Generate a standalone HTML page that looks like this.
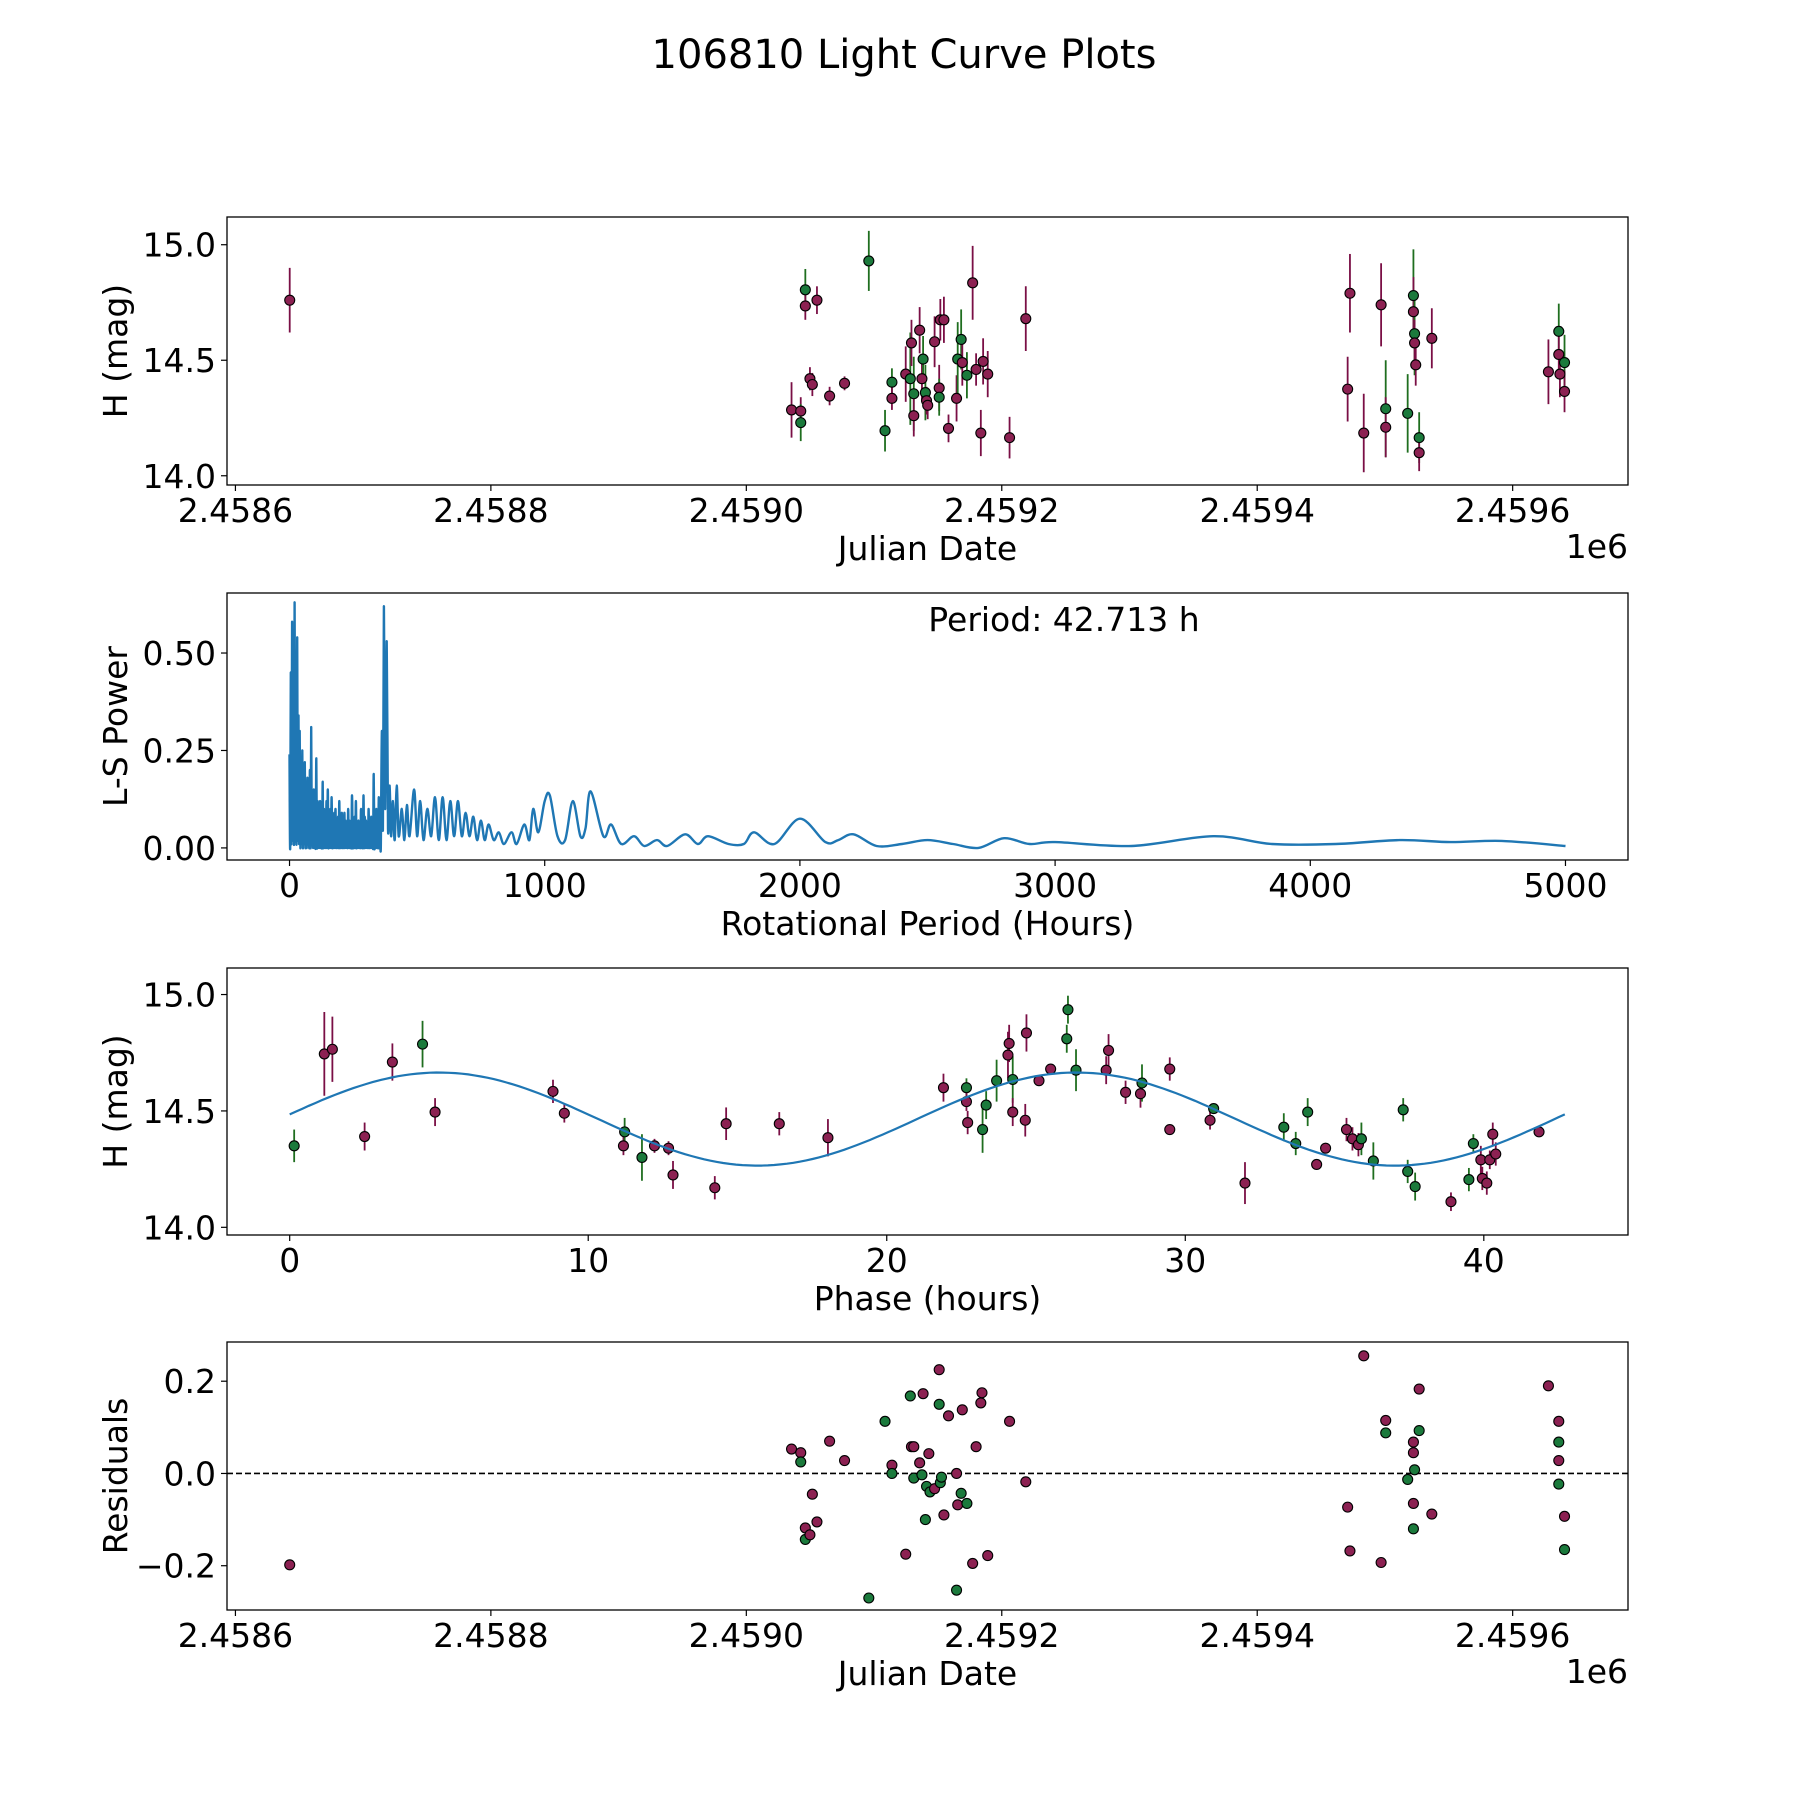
<!DOCTYPE html>
<html><head><meta charset="utf-8"><style>
html,body{margin:0;padding:0;background:#fff}
svg{display:block;font-family:"DejaVu Sans","Liberation Sans",sans-serif}
</style></head><body>
<svg id="fig" width="1800" height="1800" viewBox="0 0 1800 1800">
<text x="904" y="68" font-size="40" text-anchor="middle">106810 Light Curve Plots</text>
</svg>
<script>
// ---- Panel 1: raw light curve ----
const lcJD = [2458642.5,2459035.4,2459042.6,2459042.6,2459046.2,2459046.2,2459049.8,2459051.7,2459055.3,2459065.2,2459076.9,2459095.9,2459108.6,2459114.0,2459114.0,2459124.8,2459128.4,2459129.3,2459131.1,2459131.1,2459135.7,2459137.5,2459138.4,2459140.2,2459141.1,2459142.0,2459147.4,2459151.0,2459151.0,2459151.9,2459154.7,2459158.3,2459164.6,2459165.5,2459168.2,2459169.1,2459172.7,2459177.2,2459179.9,2459183.6,2459185.4,2459189.0,2459206.1,2459218.8,2459470.8,2459472.6,2459483.4,2459497.0,2459500.6,2459500.6,2459517.8,2459522.3,2459522.3,2459523.2,2459523.2,2459524.1,2459526.8,2459526.8,2459536.7,2459628.0,2459636.1,2459636.1,2459637.0,2459640.6,2459640.6];
const lcMag = [14.76,14.285,14.28,14.23,14.805,14.735,14.42,14.395,14.76,14.345,14.40,14.93,14.195,14.405,14.335,14.44,14.42,14.575,14.355,14.26,14.63,14.42,14.505,14.36,14.325,14.305,14.58,14.38,14.34,14.675,14.675,14.205,14.335,14.505,14.59,14.49,14.435,14.835,14.46,14.185,14.495,14.44,14.165,14.68,14.375,14.79,14.185,14.74,14.29,14.21,14.27,14.78,14.71,14.615,14.575,14.48,14.165,14.10,14.595,14.45,14.625,14.525,14.44,14.49,14.365];
const lcErr = [0.14,0.12,0.06,0.08,0.09,0.06,0.05,0.05,0.06,0.04,0.03,0.13,0.09,0.06,0.05,0.12,0.2,0.1,0.16,0.09,0.1,0.1,0.1,0.12,0.06,0.06,0.11,0.1,0.08,0.09,0.1,0.06,0.1,0.16,0.13,0.1,0.1,0.16,0.07,0.1,0.1,0.1,0.09,0.14,0.14,0.17,0.17,0.18,0.21,0.13,0.17,0.2,0.15,0.18,0.1,0.09,0.11,0.08,0.13,0.14,0.12,0.1,0.1,0.12,0.09];
const lcBand = ['p','p','p','g','g','p','p','p','p','p','p','g','g','g','p','p','g','p','g','p','p','p','g','g','p','p','p','p','g','p','p','p','p','g','g','p','g','p','p','p','p','p','p','p','p','p','p','p','g','p','g','g','p','g','p','p','g','p','p','p','g','p','p','g','p'];
// ---- Panel 2: periodogram ----
const lsPeriod = [0,2.5,5,7.5,10,12.5,15,17.5,20,22.5,25,27.5,30,32.5,35,37.5,40,42.5,45,47.5,50,52.5,55,57.5,60,62.5,65,67.5,70,72.5,75,77.5,80,82.5,85,87.5,90,92.5,95,97.5,100,102.5,105,107.5,110,112.5,115,117.5,120,122.5,125,127.5,130,132.5,135,137.5,140,142.5,145,147.5,150,152.5,155,157.5,160,162.5,165,167.5,170,172.5,175,177.5,180,182.5,185,187.5,190,192.5,195,197.5,200,202.5,205,207.5,210,212.5,215,217.5,220,222.5,225,227.5,230,232.5,235,237.5,240,242.5,245,247.5,250,252.5,255,257.5,260,262.5,265,267.5,270,272.5,275,277.5,280,282.5,285,287.5,290,292.5,295,297.5,300,302.5,305,307.5,310,312.5,315,317.5,320,322.5,325,327.5,330,332.5,335,337.5,340,342.5,345,347.5,350,352.5,355,357.5,362,366,370,375,381,386,392,398,405,412,420,428,440,450,460,470,488,500,512,525,540,555,570,585,600,615,630,645,660,675,690,705,720,735,750,765,780,800,820,840,870,890,920,940,955,975,1000,1020,1050,1080,1110,1140,1160,1180,1230,1260,1300,1350,1390,1440,1480,1550,1600,1640,1720,1780,1820,1900,2000,2100,2150,2210,2300,2400,2500,2600,2700,2800,2900,3000,3300,3620,3850,4100,4350,4550,4750,5000];
const lsPower = [0.24,0.0,0.45,0.01,0.58,0.02,0.4,0.01,0.63,0.02,0.35,0.01,0.54,0.02,0.34,0.01,0.3,0.0,0.2,0.01,0.25,0.0,0.16,0.01,0.22,0.0,0.14,0.0,0.18,0.01,0.12,0.0,0.2,0.0,0.31,0.01,0.14,0.0,0.15,0.0,0.1,0.0,0.23,0.0,0.12,0.0,0.1,0.0,0.12,0.0,0.08,0.0,0.17,0.0,0.1,0.0,0.09,0.0,0.12,0.0,0.15,0.0,0.08,0.0,0.1,0.0,0.13,0.0,0.07,0.0,0.09,0.0,0.1,0.0,0.06,0.0,0.08,0.0,0.12,0.0,0.07,0.0,0.09,0.0,0.06,0.0,0.09,0.0,0.07,0.0,0.06,0.0,0.1,0.0,0.07,0.0,0.06,0.0,0.135,0.0,0.06,0.0,0.08,0.0,0.12,0.0,0.06,0.0,0.07,0.0,0.05,0.0,0.1,0.0,0.07,0.0,0.135,0.0,0.08,0.0,0.07,0.0,0.06,0.0,0.1,0.0,0.06,0.0,0.08,0.0,0.07,0.0,0.19,0.0,0.06,0.0,0.1,0.0,0.07,0.0,0.13,0.0,0.06,0.0,0.3,0.05,0.62,0.1,0.53,0.05,0.16,0.03,0.12,0.02,0.16,0.03,0.1,0.02,0.11,0.03,0.15,0.03,0.12,0.02,0.1,0.03,0.13,0.02,0.13,0.02,0.12,0.03,0.12,0.03,0.09,0.03,0.08,0.02,0.07,0.02,0.06,0.02,0.04,0.01,0.04,0.01,0.06,0.02,0.1,0.04,0.12,0.135,0.03,0.02,0.12,0.03,0.05,0.145,0.03,0.06,0.01,0.03,0.005,0.02,0.005,0.035,0.01,0.03,0.01,0.01,0.04,0.01,0.075,0.015,0.02,0.035,0.005,0.01,0.02,0.01,0.0,0.025,0.01,0.015,0.005,0.03,0.01,0.01,0.02,0.015,0.018,0.005];
const bestPeriod = [42.713];
// ---- Panel 3: phased light curve ----
const phHours = [0.15,1.16,1.43,2.51,3.44,4.45,4.87,8.82,9.2,11.18,11.22,11.8,12.22,12.69,12.84,14.24,14.62,16.4,18.03,21.9,22.67,22.67,22.71,23.21,23.33,23.68,24.06,24.1,24.22,24.22,24.64,24.68,25.1,25.49,26.03,26.07,26.34,27.35,27.43,28.0,28.5,28.55,29.48,29.48,30.83,30.95,32.0,33.3,33.7,34.1,34.4,34.7,35.4,35.6,35.8,35.9,36.3,37.3,37.45,37.7,38.9,39.5,39.65,39.9,39.95,40.1,40.2,40.3,40.4,41.85];
const phMag = [14.35,14.745,14.765,14.39,14.71,14.787,14.495,14.584,14.49,14.35,14.41,14.3,14.35,14.34,14.225,14.17,14.445,14.445,14.385,14.6,14.6,14.54,14.45,14.42,14.525,14.63,14.74,14.79,14.635,14.495,14.46,14.835,14.63,14.68,14.81,14.935,14.675,14.675,14.76,14.58,14.574,14.62,14.42,14.68,14.46,14.51,14.19,14.43,14.36,14.495,14.27,14.34,14.42,14.38,14.355,14.38,14.285,14.505,14.24,14.175,14.11,14.205,14.36,14.29,14.21,14.19,14.29,14.4,14.315,14.41];
const phErr = [0.07,0.18,0.14,0.06,0.08,0.1,0.06,0.05,0.04,0.04,0.06,0.1,0.03,0.03,0.06,0.05,0.07,0.05,0.08,0.06,0.04,0.04,0.05,0.1,0.06,0.09,0.1,0.08,0.1,0.06,0.07,0.08,0.02,0.02,0.06,0.06,0.09,0.06,0.07,0.05,0.06,0.08,0.02,0.05,0.04,0.02,0.09,0.06,0.05,0.06,0.02,0.02,0.05,0.05,0.05,0.07,0.08,0.05,0.05,0.06,0.04,0.05,0.04,0.06,0.05,0.05,0.04,0.05,0.05,0.02];
const phBand = ['g','p','p','p','p','g','p','p','p','p','g','g','p','p','p','p','p','p','p','p','g','p','p','g','g','g','p','p','g','p','p','p','p','p','g','g','g','p','p','p','p','g','p','p','p','g','p','g','g','g','p','p','p','p','p','g','g','g','g','g','p','g','g','p','p','p','p','p','p','p'];
const fitParams = [14.465, 0.2, 21.356, -0.34]; // mean, amplitude, period(h), phase offset
// ---- Panel 4: residuals ----
const resJD = [2458642.5,2459035.4,2459042.6,2459042.6,2459046.2,2459046.2,2459049.8,2459051.7,2459055.3,2459065.2,2459076.9,2459095.9,2459108.6,2459114.0,2459114.0,2459124.8,2459128.4,2459129.3,2459131.1,2459131.1,2459135.7,2459137.5,2459138.4,2459140.2,2459141.1,2459142.9,2459143.8,2459147.4,2459151.0,2459151.0,2459151.9,2459152.8,2459154.7,2459158.3,2459164.6,2459165.5,2459168.2,2459169.1,2459172.7,2459164.6,2459177.2,2459179.9,2459183.6,2459184.5,2459189.0,2459206.1,2459218.8,2459470.8,2459472.6,2459483.4,2459497.0,2459500.6,2459500.6,2459517.8,2459522.3,2459522.3,2459523.2,2459522.3,2459522.3,2459526.8,2459526.8,2459536.7,2459628.0,2459636.1,2459636.1,2459636.1,2459636.1,2459640.6,2459640.6];
const resVal = [-0.198,0.053,0.045,0.025,-0.118,-0.143,-0.133,-0.045,-0.105,0.07,0.028,-0.27,0.113,0.018,0.0,-0.175,0.168,0.058,0.058,-0.01,0.023,-0.003,0.173,-0.1,-0.028,0.043,-0.04,-0.033,0.225,0.15,-0.02,-0.008,-0.09,0.125,0.0,-0.068,-0.043,0.138,-0.065,-0.253,-0.195,0.058,0.153,0.175,-0.178,0.113,-0.018,-0.073,-0.168,0.255,-0.193,0.115,0.088,-0.013,0.068,0.045,0.008,-0.065,-0.12,0.183,0.093,-0.088,0.19,0.113,0.068,0.028,-0.023,-0.093,-0.165];
const resBand = ['p','p','p','g','p','g','p','p','p','p','p','g','g','p','g','p','g','p','p','g','p','g','p','g','g','p','g','p','p','g','g','g','p','p','p','p','g','p','g','g','p','p','p','p','p','p','p','p','p','p','p','p','g','g','p','p','g','p','g','p','g','p','p','p','g','p','g','p','g'];

const NS='http://www.w3.org/2000/svg';
const svg=document.getElementById('fig');
const FILL={p:'#8c2152',g:'#1b7a3c'}, ECOL={p:'#7a0f45',g:'#1f6e1f'};
function mk(tag,attrs,parent){const e=document.createElementNS(NS,tag);for(const k in attrs)e.setAttribute(k,attrs[k]);(parent||svg).appendChild(e);return e;}
function lin(d0,d1,p0,p1){return v=>p0+(v-d0)*(p1-p0)/(d1-d0);}
const L=227,R=1628,FS=33;
function frame(name){
  const g=mk('g',{});
  
  
  return g;
}
function border(g,top,bot){
  const r=mk('rect',{x:L,y:top,width:R-L,height:bot-top,fill:'none',stroke:'#000','stroke-width':1.3},g);
  
  
}
function xticks(g,ticks,labels,xs,bot){
  ticks.forEach((t,i)=>{
    const x=xs(t);
    mk('line',{x1:x,x2:x,y1:bot,y2:bot+6,stroke:'#000','stroke-width':1.2},g);
    const tx=mk('text',{x:x,y:bot+37,'font-size':FS,'text-anchor':'middle'},g);tx.textContent=labels[i];
    
    
  });
}
function yticks(g,ticks,labels,ys){
  ticks.forEach((t,i)=>{
    const y=ys(t);
    mk('line',{x1:L-6,x2:L,y1:y,y2:y,stroke:'#000','stroke-width':1.2},g);
    const tx=mk('text',{x:L-11,y:y+12,'font-size':FS,'text-anchor':'end'},g);tx.textContent=labels[i];
    
    
  });
}
function xlabel(g,txt,y){const t=mk('text',{x:(L+R)/2,y:y,'font-size':FS,'text-anchor':'middle'},g);t.textContent=txt;
  
  }
function ylabel(g,txt,cy){const t=mk('text',{x:0,y:0,'font-size':FS,'text-anchor':'middle',transform:`translate(127 ${cy}) rotate(-90)`},g);t.textContent=txt;
  
  }
function offsetText(g,y){const t=mk('text',{x:R,y:y,'font-size':FS,'text-anchor':'end'},g);t.textContent='1e6';
  
  }
function points(g,xsArr,ysArr,band,xs,ys,err){
  if(err){xsArr.forEach((v,i)=>{const x=xs(v);
    const l=mk('line',{x1:x,x2:x,y1:ys(ysArr[i]-err[i]),y2:ys(ysArr[i]+err[i]),stroke:ECOL[band[i]],'stroke-width':1.8},g);
    
    });}
  xsArr.forEach((v,i)=>{
    const c=mk('circle',{cx:xs(v),cy:ys(ysArr[i]),r:5,fill:FILL[band[i]],stroke:'#000','stroke-width':1.1},g);
    
    
  });
}
const jdTicks=[2458600,2458800,2459000,2459200,2459400,2459600];
const jdLabels=['2.4586','2.4588','2.4590','2.4592','2.4594','2.4596'];
const xsJD=lin(2458593.4,2459690.3,L,R);

// Panel 1
{const top=217,bot=485;const g=frame('raw-light-curve-panel');
 const ys=lin(15.12,13.96,top,bot);
 points(g,lcJD,lcMag,lcBand,xsJD,ys,lcErr);
 border(g,top,bot);
 xticks(g,jdTicks,jdLabels,xsJD,bot);
 yticks(g,[14.0,14.5,15.0],['14.0','14.5','15.0'],ys);
 xlabel(g,'Julian Date',560);ylabel(g,'H (mag)',(top+bot)/2);offsetT=offsetText(g,558);}

// Panel 2
{const top=593,bot=860;const g=frame('periodogram-panel');
 const xs=lin(-245,5245,L,R), ys=lin(0.654,-0.031,top,bot);
 const P=lsPeriod.map((p,i)=>[xs(p),ys(lsPower[i])]);
 let d='M'+P[0][0].toFixed(1)+' '+P[0][1].toFixed(1);
 for(let i=0;i<P.length-1;i++){
   const p0=P[Math.max(0,i-1)],p1=P[i],p2=P[i+1],p3=P[Math.min(P.length-1,i+2)];
   const c1=[p1[0]+(p2[0]-p0[0])/6,p1[1]+(p2[1]-p0[1])/6],c2=[p2[0]-(p3[0]-p1[0])/6,p2[1]-(p3[1]-p1[1])/6];
   d+=`C${c1[0].toFixed(1)} ${c1[1].toFixed(1)} ${c2[0].toFixed(1)} ${c2[1].toFixed(1)} ${p2[0].toFixed(1)} ${p2[1].toFixed(1)}`;
 }
 const pl=mk('path',{d:d,fill:'none',stroke:'#1f77b4','stroke-width':2.4,'stroke-linejoin':'round'},g);
 
 
 border(g,top,bot);
 xticks(g,[0,1000,2000,3000,4000,5000],['0','1000','2000','3000','4000','5000'],xs,bot);
 yticks(g,[0,0.25,0.5],['0.00','0.25','0.50'],ys);
 const pt=mk('text',{x:1064,y:631,'font-size':FS,'text-anchor':'middle'},g);pt.textContent='Period: '+bestPeriod[0].toFixed(3)+' h';
 
 
 xlabel(g,'Rotational Period (Hours)',935);ylabel(g,'L-S Power',(top+bot)/2);}

// Panel 3
{const top=968,bot=1235;const g=frame('phased-light-curve-panel');
 const xs=lin(-2.1,44.83,L,R), ys=lin(15.114,13.967,top,bot);
 points(g,phHours,phMag,phBand,xs,ys,phErr);
 let d='';for(let i=0;i<=200;i++){const t=bestPeriod[0]*i/200;const m=fitParams[0]+fitParams[1]*Math.sin(2*Math.PI*(t-fitParams[3])/fitParams[2]);d+=(i?'L':'M')+xs(t).toFixed(1)+' '+ys(m).toFixed(1);}
 const fl=mk('path',{d:d,fill:'none',stroke:'#1f77b4','stroke-width':2.2},g);
 
 
 border(g,top,bot);
 xticks(g,[0,10,20,30,40],['0','10','20','30','40'],xs,bot);
 yticks(g,[14.0,14.5,15.0],['14.0','14.5','15.0'],ys);
 xlabel(g,'Phase (hours)',1310);ylabel(g,'H (mag)',(top+bot)/2);}

// Panel 4
{const top=1342,bot=1610;const g=frame('residuals-panel');
 const ys=lin(0.285,-0.296,top,bot);
 const zl=mk('line',{x1:L,x2:R,y1:ys(0),y2:ys(0),stroke:'#000','stroke-width':1.6,'stroke-dasharray':'6 3'},g);
 
 
 points(g,resJD,resVal,resBand,xsJD,ys,null);
 border(g,top,bot);
 xticks(g,jdTicks,jdLabels,xsJD,bot);
 yticks(g,[-0.2,0,0.2],['\u22120.2','0.0','0.2'],ys);
 xlabel(g,'Julian Date',1685);ylabel(g,'Residuals',(top+bot)/2);offsetText(g,1683);}
</script>
</body></html>
